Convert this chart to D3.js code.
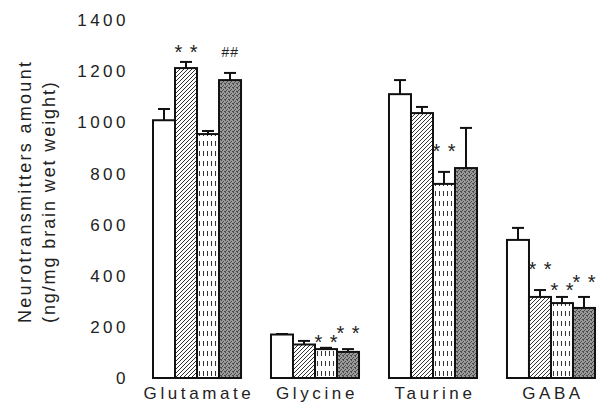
<!DOCTYPE html>
<html>
<head>
<meta charset="utf-8">
<script src="https://cdn.jsdelivr.net/npm/d3@7"></script>
<style>
  body { margin: 0; background: #fff; }
  text { font-family: "Liberation Sans", Arial, sans-serif; fill: #222; }
</style>
</head>
<body>
<div class="chart"></div>
<script>
var groups = ['Glutamate', 'Glycine', 'Taurine', 'GABA'];
var series = ['s1', 's2', 's3', 's4'];
// bar means, one array per series (ng/mg)
var s1 = [1008, 170, 1110, 540];
var s2 = [1212, 131, 1036, 317];
var s3 = [954, 113, 759, 293];
var s4 = [1165, 102, 821, 274];
// upper end of error bars
var e1 = [1052, 172, 1165, 587];
var e2 = [1236, 145, 1060, 344];
var e3 = [966, 118, 806, 317];
var e4 = [1193, 113, 978, 317];
var yTicks = [0, 200, 400, 600, 800, 1000, 1200, 1400];
// significance marks: group, series, text, level (value where mark sits)
var marks = [
  ['Glutamate', 's2', '* *', 1302],
  ['Glutamate', 's4', '##', 1275],
  ['Glycine', 's3', '* *', 168],
  ['Glycine', 's4', '* *', 203],
  ['Taurine', 's3', '* *', 915],
  ['GABA', 's2', '* *', 454],
  ['GABA', 's3', '* *', 375],
  ['GABA', 's4', '* *', 403]
];

var w = 596, h = 417;
var means = [s1, s2, s3, s4];
var errs = [e1, e2, e3, e4];

var svg = d3.select('.chart').append('svg')
  .attr('width', w)
  .attr('height', h);

var defs = svg.append('defs');

// hatch ///
var p2 = defs.append('pattern').attr('id', 'hatch')
  .attr('patternUnits', 'userSpaceOnUse')
  .attr('width', 4).attr('height', 4);
p2.append('rect').attr('width', 4).attr('height', 4).attr('fill', '#fff');
p2.append('path').attr('d', 'M-1,1 l2,-2 M0,4 l4,-4 M3,5 l2,-2')
  .attr('stroke', '#333').attr('stroke-width', 1);

// dashed vertical lines
var p3 = defs.append('pattern').attr('id', 'dash')
  .attr('patternUnits', 'userSpaceOnUse')
  .attr('width', 8).attr('height', 10);
p3.append('rect').attr('width', 8).attr('height', 10).attr('fill', '#fff');
p3.append('path').attr('d', 'M2.5,1 v5 M6.5,1 v5')
  .attr('stroke', '#333').attr('stroke-width', 1);

// grey stipple
var p4 = defs.append('pattern').attr('id', 'stip')
  .attr('patternUnits', 'userSpaceOnUse')
  .attr('width', 4).attr('height', 4);
p4.append('rect').attr('width', 4).attr('height', 4).attr('fill', '#9a9a9a');
p4.append('path').attr('d', 'M0,0h1v1h-1z M2,1h1v1h-1z M1,2h1v1h-1z M3,3h1v1h-1z M0,3h1v1h-1z')
  .attr('fill', '#4a4a4a');

var fills = ['#fff', 'url(#hatch)', 'url(#dash)', 'url(#stip)'];

var x0 = d3.scaleBand().domain(groups).range([153, 595]).paddingInner(0.254);
var x1 = d3.scaleBand().domain(series).range([0, x0.bandwidth()]);
var y = d3.scaleLinear().domain([0, 1400]).range([378, 20]);

// y tick labels (no axis line)
svg.selectAll('.ytick').data(yTicks).enter()
  .append('text')
  .attr('x', 129)
  .attr('y', function(d){ return y(d); })
  .attr('dy', '0.36em')
  .attr('text-anchor', 'end')
  .style('font-size', '17px')
  .style('letter-spacing', '3.5px')
  .text(function(d){ return d; });

// y title
var title = ['Neurotransmitters amount', '(ng/mg brain wet weight)'];
svg.selectAll('.ytitle').data(title).enter()
  .append('text')
  .attr('transform', function(d, i){ return 'translate(' + (31 + i * 24) + ',323) rotate(-90)'; })
  .style('font-size', '18px')
  .style('letter-spacing', function(d, i){ return i == 0 ? '2.3px' : '1.9px'; })
  .text(function(d){ return d; });

// bars
var g = svg.selectAll('.grp').data(groups).enter()
  .append('g')
  .attr('transform', function(d){ return 'translate(' + x0(d) + ',0)'; });

series.forEach(function(s, si){
  g.append('line')
    .attr('x1', function(d, gi){ return x1(s) + x1.bandwidth() / 2; })
    .attr('x2', function(d, gi){ return x1(s) + x1.bandwidth() / 2; })
    .attr('y1', function(d, gi){ return y(means[si][gi]); })
    .attr('y2', function(d, gi){ return y(errs[si][gi]); })
    .attr('stroke', '#111').attr('stroke-width', 2);
  g.append('line')
    .attr('x1', function(d, gi){ return x1(s) + x1.bandwidth() / 2 - 6; })
    .attr('x2', function(d, gi){ return x1(s) + x1.bandwidth() / 2 + 6; })
    .attr('y1', function(d, gi){ return y(errs[si][gi]); })
    .attr('y2', function(d, gi){ return y(errs[si][gi]); })
    .attr('stroke', '#111').attr('stroke-width', 2);
  g.append('rect')
    .attr('x', x1(s))
    .attr('width', x1.bandwidth())
    .attr('y', function(d, gi){ return y(means[si][gi]); })
    .attr('height', function(d, gi){ return y(0) - y(means[si][gi]); })
    .attr('fill', fills[si])
    .attr('stroke', '#111')
    .attr('stroke-width', 2);
});

// category labels
svg.selectAll('.cat').data(groups).enter()
  .append('text')
  .attr('x', function(d){ return x0(d) + x0.bandwidth() / 2 + 2; })
  .attr('y', 399)
  .attr('text-anchor', 'middle')
  .style('font-size', '17px')
  .style('letter-spacing', '3.6px')
  .text(function(d){ return d; });

// significance marks
svg.selectAll('.mark').data(marks).enter()
  .append('text')
  .attr('x', function(d){ return x0(d[0]) + x1(d[1]) + x1.bandwidth() / 2; })
  .attr('y', function(d){ return y(d[3]); })
  .attr('dy', function(d){ return d[2] == '##' ? '0.35em' : '0.72em'; })
  .attr('text-anchor', 'middle')
  .style('font-size', function(d){ return d[2] == '##' ? '14px' : '20px'; })
  .style('font-style', function(d){ return d[2] == '##' ? 'italic' : 'normal'; })
  .style('letter-spacing', function(d){ return d[2] == '##' ? '1px' : '0px'; })
  .style('word-spacing', function(d){ return d[2] == '##' ? '0px' : '2px'; })
  .text(function(d){ return d[2]; });
</script>
</body>
</html>
